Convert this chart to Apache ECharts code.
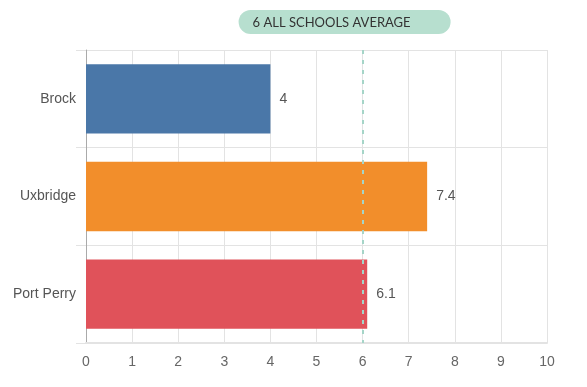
<!DOCTYPE html>
<html><head><meta charset="utf-8">
<script src="https://cdn.jsdelivr.net/npm/echarts@6/dist/echarts.min.js"></script>
<style>html,body{margin:0;padding:0;background:#fff}#c{width:587px;height:387px}</style>
</head><body><div id="c"></div>
<script>
const categories = ['Brock', 'Uxbridge', 'Port Perry'];
const values = [4, 7.4, 6.1];
const barColors = ['#4a77a8', '#f28e2b', '#e0525a'];
const averageValue = 6;
const averageLabel = 'ALL SCHOOLS AVERAGE';

const chart = echarts.init(document.getElementById('c'));
chart.setOption({
  animation: false,
  grid: {left: 86, right: 40, top: 50, bottom: 44, containLabel: false},
  xAxis: {
    type: 'value', min: 0, max: 10, interval: 1,
    axisLine: {show: true, lineStyle: {color: '#e3e3e3', width: 2}},
    axisTick: {show: false},
    axisLabel: {color: '#666', fontSize: 14, margin: 12, fontFamily: 'Liberation Sans'},
    splitLine: {show: true, lineStyle: {color: '#e3e3e3'}}
  },
  yAxis: {
    type: 'category', data: categories, inverse: true,
    axisLine: {show: true, lineStyle: {color: '#aaa'}},
    axisTick: {show: true, length: 10, lineStyle: {color: '#e3e3e3'}},
    axisLabel: {color: '#555', fontSize: 14, margin: 10, fontFamily: 'Liberation Sans'},
    splitLine: {show: true, lineStyle: {color: '#e3e3e3'}}
  },
  series: [{
    type: 'bar',
    data: values.map((v, i) => ({value: v, itemStyle: {color: barColors[i]}})),
    barWidth: '71%',
    label: {show: true, position: 'right', distance: 9, color: '#555', fontSize: 14, fontFamily: 'Liberation Sans'},
    markLine: {
      silent: true,
      symbol: 'none',
      z: 10,
      lineStyle: {color: '#a5d5c8', type: [4, 6], width: 2},
      label: {
        show: true, position: 'start', distance: 16,
        formatter: p => p.value + ' ' + averageLabel,
        backgroundColor: '#b7dfcf', borderRadius: 12,
        padding: [6, 40, 5, 14], color: '#333', fontSize: 13,
        fontFamily: 'Lato', offset: [-18, 0]
      },
      data: [{xAxis: averageValue}]
    }
  }]
});
</script>
</body></html>
